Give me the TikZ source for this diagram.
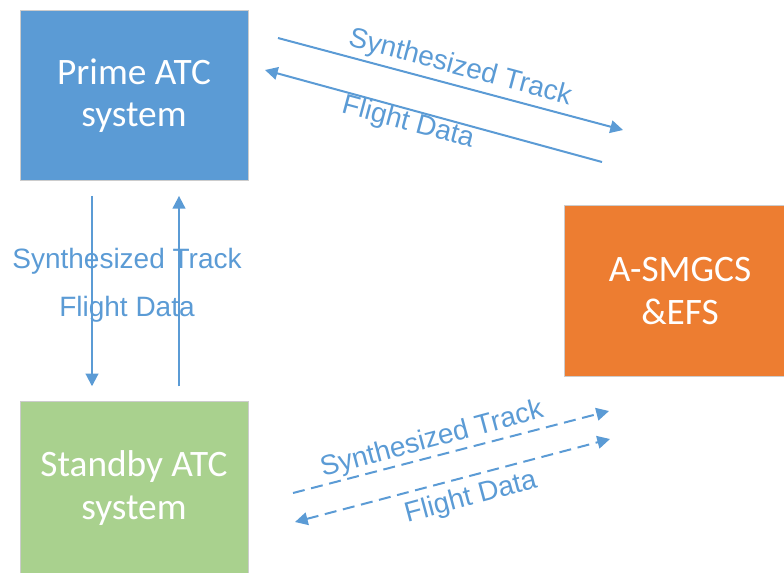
\documentclass[tikz,border=0pt]{standalone}
\usepackage{fontspec}
\setmainfont{Carlito}
\newfontfamily\arialfont{Liberation Sans}
\usepackage{xcolor}
\usetikzlibrary{arrows.meta}
\definecolor{atcblue}{HTML}{5B9BD5}
\definecolor{atcgreen}{HTML}{A9D18E}
\definecolor{atcorange}{HTML}{ED7D31}
\tikzset{
  sysbox/.style={draw=black!20, line width=0.6pt, text=white, align=center,
    minimum width=171pt, minimum height=128pt, font=\fontsize{28}{32}\selectfont},
  link/.style={draw=atcblue, line width=1.5pt, -{Triangle[length=9.5pt,width=9.5pt]}},
  flowlabel/.style={text=atcblue, font=\arialfont\fontsize{21}{25}\selectfont}
}
\begin{document}
\begin{tikzpicture}[x=0.75pt,y=-0.75pt]
\useasboundingbox (0,0) rectangle (784,572);
\clip (0,0) rectangle (784,572);
% systems
\node[sysbox, fill=atcblue] (prime) at (134,95.5) {Prime ATC\\system};
\node[sysbox, fill=atcgreen, minimum height=139pt] (standby) at (134,494) {};
\node[text=white, align=center, font=\fontsize{28}{32}\selectfont] (standbytext) at (134,488) {Standby ATC\\system};
\node[sysbox, fill=atcorange, minimum width=173pt] (asmgcs) at (680,291) {A-SMGCS\\\&EFS};
% prime <-> standby
\draw[link, shorten <=11pt, shorten >=11pt] ([xshift=-31.5pt]prime.south) -- ([xshift=-31.5pt]standby.north);
\draw[link, shorten <=11pt, shorten >=11pt] ([xshift=33.75pt]standby.north) -- ([xshift=33.75pt]prime.south);
\node[flowlabel] (vtrack) at (127,261) {Synthesized Track};
\node[flowlabel] (vdata) at (127,309) {Flight Data};
% prime <-> A-SMGCS
\coordinate (st1) at (278,38);
\coordinate (st2) at (623,130);
\coordinate (fd1) at (602,162);
\coordinate (fd2) at (265,70);
\draw[link] (st1) -- (st2);
\draw[link] (fd1) -- (fd2);
\node[flowlabel, rotate=-15] (ptrack) at (460,68) {Synthesized Track};
\node[flowlabel, rotate=-15] (pdata) at (408,123) {Flight Data};
% standby <-> A-SMGCS
\coordinate (st3) at (293,493);
\coordinate (st4) at (609,411);
\coordinate (fd3) at (295,522);
\coordinate (fd4) at (610,439);
\draw[link, dash pattern=on 9pt off 5pt] (st3) -- (st4);
\draw[link, {Triangle[length=9.5pt,width=9.5pt]}-{Triangle[length=9.5pt,width=9.5pt]}, dash pattern=on 9pt off 5pt] (fd3) -- (fd4);
\node[flowlabel, rotate=15] (strack) at (432,440) {Synthesized Track};
\node[flowlabel, rotate=15] (sdata) at (471,498) {Flight Data};
\end{tikzpicture}
\end{document}
